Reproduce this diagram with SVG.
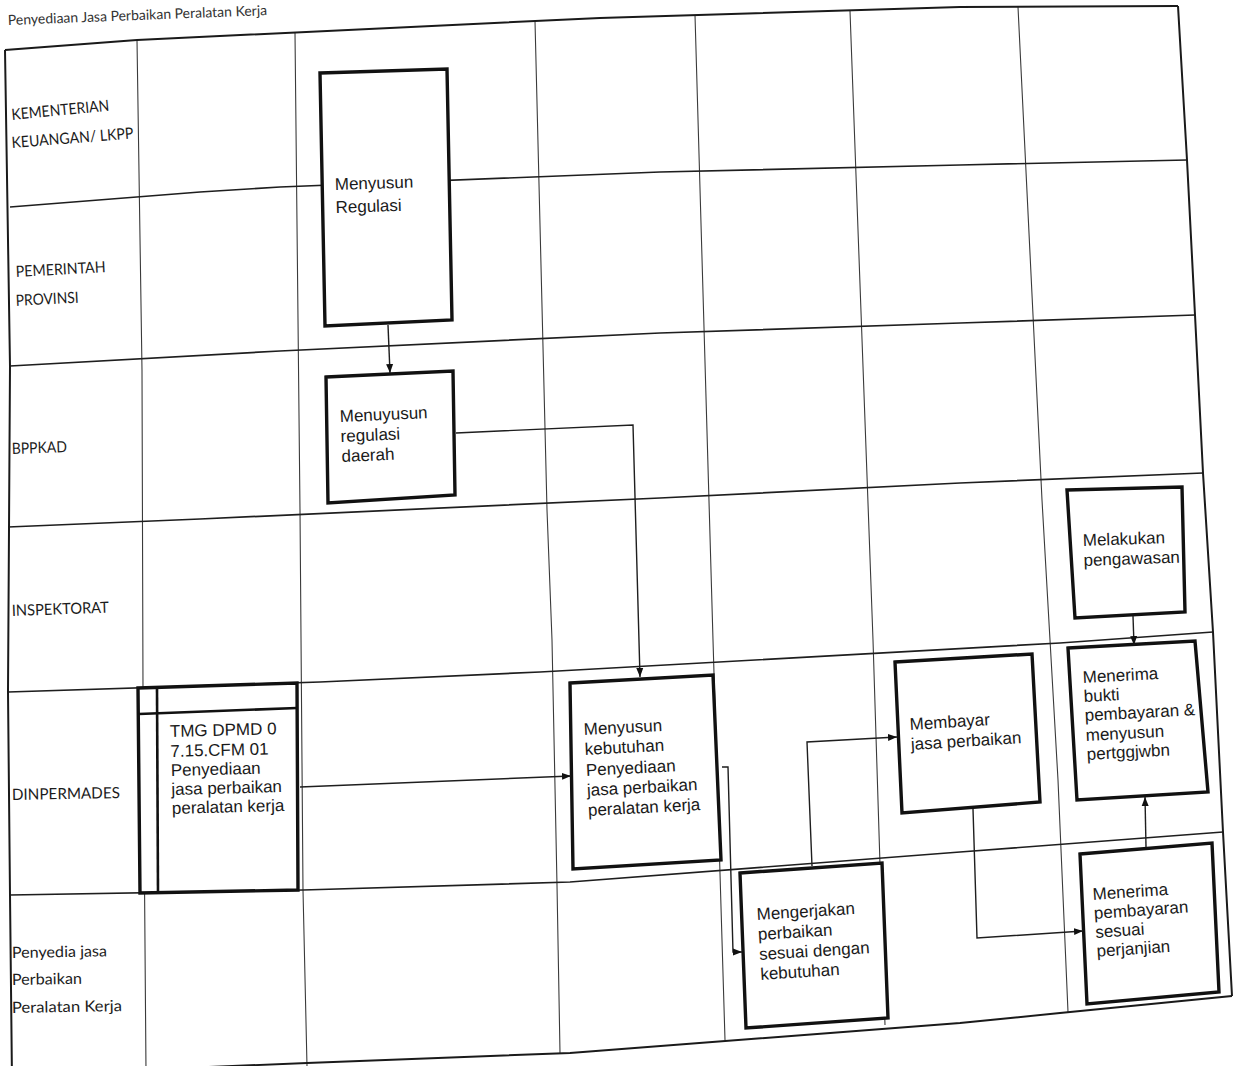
<svg xmlns="http://www.w3.org/2000/svg" width="1234" height="1066" viewBox="0 0 1234 1066">
<defs>
<style>
.frame{fill:none;stroke:#1a1a1a;stroke-width:2;stroke-linejoin:round}
.row{fill:none;stroke:#1e1e1e;stroke-width:1.7}
.col{fill:none;stroke:#3a3a3a;stroke-width:1.1}
.box{fill:#fff;stroke:#111;stroke-width:3.4;stroke-linejoin:miter}
.thin{fill:none;stroke:#111;stroke-width:2.6}
.lbl{font-family:Lato,"Open Sans","DejaVu Sans",sans-serif;font-size:15.5px;fill:#1c1c1c}
.t{font-family:"Liberation Sans",Arial,sans-serif;font-size:17px;fill:#1a1a1a}
.title{font-family:Lato,"Open Sans",sans-serif;font-size:14px;fill:#333}
.conn{fill:none;stroke:#1e1e1e;stroke-width:1.4;stroke-linejoin:miter}
</style>
<marker id="arr" markerUnits="userSpaceOnUse" markerWidth="10" markerHeight="9" refX="9" refY="4" orient="auto">
<path d="M0,0.5 L9,4 L0,7.5 z" fill="#111"/>
</marker>
</defs>
<rect x="0" y="0" width="1234" height="1066" fill="#fff"/>
<text class="title" x="8" y="25" transform="rotate(-2.2 8 25)">Penyediaan Jasa Perbaikan Peralatan Kerja</text>

<g id="grid">
<polyline class="col" points="137,40 142,370 143,690 146,1072"/>
<polyline class="col" points="295,33 300,510 303,890 307,1066"/>
<polyline class="col" points="535,21 547,510 552,640 557,885 560,1053"/>
<polyline class="col" points="695,15 713,640 725,1040"/>
<polyline class="col" points="850,11 873,640 885,1025"/>
<polyline class="col" points="1018,7 1042,500 1050,640 1058,780 1068,1012"/>
<polyline class="row" points="10,207 200,192 280,187 660,172 960,165 1187,160"/>
<polyline class="row" points="10,366 280,351 660,333 960,323 1195,315"/>
<polyline class="row" points="8,527 200,519 660,498 960,483 1203,473"/>
<polyline class="row" points="8,692 320,682 540,672 1060,643 1213,632"/>
<polyline class="row" points="10,895 303,890 570,882 960,852 1223,832"/>
<polyline class="frame" points="5,50 137,40 600,18 960,7 1178,6"/>
<polyline class="frame" points="5,50 10,366 8,692 10,895 12,1080"/>
<polyline class="frame" points="1178,6 1187,160 1195,315 1203,473 1213,632 1223,832 1232,996"/>
<polyline class="frame" points="12,1075 307,1063 570,1053 960,1023 1060,1013 1232,996"/>
</g>

<g id="lanes">
<text class="lbl" x="12" y="120" textLength="98" lengthAdjust="spacingAndGlyphs" transform="rotate(-5.5 12 120)">KEMENTERIAN</text>
<text class="lbl" x="12" y="148" textLength="122" lengthAdjust="spacingAndGlyphs" transform="rotate(-4.5 12 148)">KEUANGAN/ LKPP</text>
<text class="lbl" x="16" y="277" textLength="90" lengthAdjust="spacingAndGlyphs" transform="rotate(-3 16 277)">PEMERINTAH</text>
<text class="lbl" x="16" y="306" textLength="63" lengthAdjust="spacingAndGlyphs" transform="rotate(-3 16 306)">PROVINSI</text>
<text class="lbl" x="12" y="454" textLength="55" lengthAdjust="spacingAndGlyphs" transform="rotate(-2 12 454)">BPPKAD</text>
<text class="lbl" x="12" y="616" textLength="97" lengthAdjust="spacingAndGlyphs" transform="rotate(-2 12 616)">INSPEKTORAT</text>
<text class="lbl" x="12" y="800" textLength="108" lengthAdjust="spacingAndGlyphs" transform="rotate(-1 12 800)">DINPERMADES</text>
<text class="lbl" x="12" y="958" textLength="95" lengthAdjust="spacingAndGlyphs" transform="rotate(-1 12 958)">Penyedia jasa</text>
<text class="lbl" x="12" y="985" textLength="70" lengthAdjust="spacingAndGlyphs" transform="rotate(-1 12 985)">Perbaikan</text>
<text class="lbl" x="12" y="1013" textLength="110" lengthAdjust="spacingAndGlyphs" transform="rotate(-1 12 1013)">Peralatan Kerja</text>
</g>

<g id="n-regulasi">
<polygon class="box" points="320,73 447,69 452,320 325,326"/>
<g transform="rotate(-1.8 335 190)">
<text class="t" x="335" y="190">Menyusun</text>
<text class="t" x="335" y="213">Regulasi</text>
</g>
</g>

<g id="n-regdaerah">
<polygon class="box" points="326,377 453,371 455,495 328,503"/>
<g transform="rotate(-2.5 340 422)">
<text class="t" x="340" y="422">Menuyusun</text>
<text class="t" x="340" y="442">regulasi</text>
<text class="t" x="340" y="462">daerah</text>
</g>
</g>

<g id="n-tmg">
<polygon class="box" points="138,688 297,683 298,890 140,893"/>
<line class="thin" x1="157" y1="688" x2="158" y2="892"/>
<line class="thin" x1="139" y1="714" x2="297" y2="708"/>
<g transform="rotate(-1.5 170 737)">
<text class="t" x="170" y="737">TMG DPMD 0</text>
<text class="t" x="170" y="757">7.15.CFM 01</text>
<text class="t" x="170" y="776">Penyediaan</text>
<text class="t" x="170" y="795">jasa perbaikan</text>
<text class="t" x="170" y="814">peralatan kerja</text>
</g>
</g>

<g id="n-kebutuhan">
<polygon class="box" points="570,683 713,675 721,860 573,869"/>
<g transform="rotate(-3 584 735)">
<text class="t" x="584" y="735">Menyusun</text>
<text class="t" x="584" y="755">kebutuhan</text>
<text class="t" x="584" y="776">Penyediaan</text>
<text class="t" x="584" y="796">jasa perbaikan</text>
<text class="t" x="584" y="816">peralatan kerja</text>
</g>
</g>

<g id="n-mengerjakan">
<polygon class="box" points="740,873 882,863 888,1018 746,1028"/>
<g transform="rotate(-3.5 757 920)">
<text class="t" x="757" y="920">Mengerjakan</text>
<text class="t" x="757" y="940">perbaikan</text>
<text class="t" x="757" y="960">sesuai dengan</text>
<text class="t" x="757" y="980">kebutuhan</text>
</g>
</g>

<g id="n-membayar">
<polygon class="box" points="895,662 1032,654 1040,802 902,813"/>
<g transform="rotate(-3.5 910 730)">
<text class="t" x="910" y="730">Membayar</text>
<text class="t" x="910" y="750">jasa perbaikan</text>
</g>
</g>

<g id="n-pengawasan">
<polygon class="box" points="1067,490 1182,487 1185,612 1075,618"/>
<g transform="rotate(-2 1083 546)">
<text class="t" x="1083" y="546">Melakukan</text>
<text class="t" x="1083" y="566">pengawasan</text>
</g>
</g>

<g id="n-bukti">
<polygon class="box" points="1068,648 1195,641 1208,792 1077,800"/>
<g transform="rotate(-3 1083 683)">
<text class="t" x="1083" y="683">Menerima</text>
<text class="t" x="1083" y="702">bukti</text>
<text class="t" x="1083" y="721">pembayaran &amp;</text>
<text class="t" x="1083" y="741">menyusun</text>
<text class="t" x="1083" y="760">pertggjwbn</text>
</g>
</g>

<g id="n-pembayaran">
<polygon class="box" points="1080,854 1212,843 1219,992 1087,1004"/>
<g transform="rotate(-4 1093 900)">
<text class="t" x="1093" y="900">Menerima</text>
<text class="t" x="1093" y="919">pembayaran</text>
<text class="t" x="1093" y="938">sesuai</text>
<text class="t" x="1093" y="957">perjanjian</text>
</g>
</g>

<g id="connectors">
<polyline class="conn" marker-end="url(#arr)" points="388,325 390,373"/>
<polyline class="conn" marker-end="url(#arr)" points="456,433 633,425 640,677"/>
<polyline class="conn" marker-end="url(#arr)" points="300,787 571,776"/>
<polyline class="conn" marker-end="url(#arr)" points="722,767 728,767 733,952 742,952"/>
<polyline class="conn" marker-end="url(#arr)" points="812,866 807,742 897,737"/>
<polyline class="conn" marker-end="url(#arr)" points="973,809 977,938 1083,931"/>
<polyline class="conn" marker-end="url(#arr)" points="1133,616 1134,645"/>
<polyline class="conn" marker-end="url(#arr)" points="1146,847 1145,797"/>
</g>
</svg>
